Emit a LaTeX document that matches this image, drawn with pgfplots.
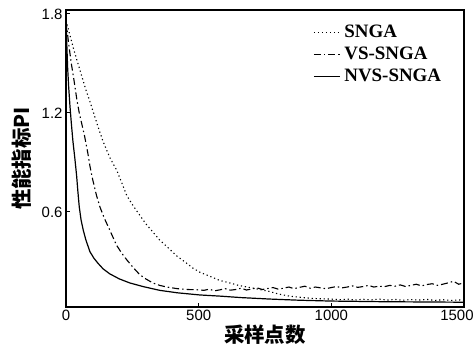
\documentclass[border=0pt]{standalone}
\usepackage{pgfplots}
\pgfplotsset{compat=1.18}
\usepackage{fontspec}
\setmainfont{Liberation Serif}
\setsansfont{Liberation Sans}
\newfontfamily\cjk{Noto Sans CJK SC}
\begin{document}
\begin{tikzpicture}
\begin{axis}[
  at={(0,0)}, anchor=south west,
  scale only axis, width=398bp, height=297bp,
  xmin=0, xmax=1500, ymin=0.024, ymax=1.824,
  xtick={0,500,1000,1500}, ytick={0.6,1.2,1.8},
  xticklabels={0,500,1000,\hspace*{-14bp}1500},
  yticklabels={0.6,1.2,1.8},
  xtick pos=bottom, ytick pos=left, tick align=inside,
  major tick length=4bp,
  axis line style={line width=1.3bp},
  every tick/.style={line width=1bp, black},
  tick label style={font=\sffamily\fontsize{15}{17}\selectfont},
  /pgf/number format/assume math mode=true,
  xlabel={\cjk\bfseries\fontsize{20.5}{24}\selectfont 采样点数},
  ylabel={\cjk\bfseries\fontsize{20.5}{24}\selectfont 性能指标PI},
  xlabel style={yshift=3bp},
  ylabel style={yshift=3bp},
  legend cell align=left,
  legend style={at={(rel axis cs:0.618,0.96)}, anchor=north west, draw=none, fill=none,
    font=\bfseries\fontsize{19}{22}\selectfont, row sep=4bp, inner sep=1bp,
    nodes={inner xsep=4bp}},
  legend image code/.code={\draw[#1] (0bp,0bp) -- (26bp,0bp);},
]
\addplot[black, line width=1.1bp, dash pattern=on 1.2bp off 2.8bp] coordinates {
(0,1.76) (10,1.70) (20,1.64) (30,1.58) (45,1.50) (60,1.42) (75,1.34) (90,1.27) (98,1.23)
(120,1.12) (139,1.03) (165,0.93) (192,0.85) (229,0.70) (252,0.64) (300,0.53) (353,0.43)
(380,0.39) (420,0.33) (450,0.295) (478,0.26) (504,0.235) (550,0.205) (579,0.185) (605,0.175)
(628,0.165) (650,0.155) (700,0.14) (767,0.118) (800,0.103) (842,0.09) (870,0.085) (900,0.08)
(930,0.076) (960,0.074) (1000,0.072) (1030,0.068) (1060,0.072) (1090,0.066) (1120,0.071)
(1150,0.067) (1180,0.072) (1210,0.066) (1240,0.07) (1270,0.065) (1300,0.069) (1330,0.066)
(1360,0.07) (1390,0.064) (1420,0.068) (1450,0.064) (1480,0.067) (1500,0.064)
};
\addlegendentry{SNGA}
\addplot[black, line width=1.1bp, dash pattern=on 7bp off 3bp on 1.5bp off 3bp] coordinates {
(0,1.76) (10,1.62) (20,1.50) (30,1.40) (41,1.28) (50,1.20) (60,1.13) (70,1.06) (83,0.95)
(90,0.88) (100,0.80) (115,0.70) (128,0.63) (145,0.56) (165,0.49) (190,0.40) (210,0.35)
(229,0.31) (255,0.26) (278,0.22) (300,0.195) (327,0.17) (353,0.155) (380,0.145) (420,0.135)
(460,0.13) (500,0.128) (520,0.125) (540,0.132) (560,0.122) (580,0.128) (600,0.135) (620,0.126)
(640,0.13) (660,0.138) (680,0.127) (700,0.133) (720,0.14) (740,0.13) (760,0.136) (780,0.142)
(800,0.132) (820,0.138) (840,0.145) (860,0.135) (880,0.143) (900,0.15) (920,0.138) (940,0.145)
(960,0.14) (980,0.135) (1000,0.142) (1020,0.148) (1040,0.14) (1060,0.145) (1080,0.152)
(1100,0.143) (1120,0.148) (1140,0.155) (1160,0.145) (1180,0.15) (1200,0.147) (1220,0.155)
(1240,0.15) (1260,0.158) (1280,0.148) (1300,0.155) (1320,0.162) (1340,0.152) (1360,0.16)
(1380,0.165) (1400,0.155) (1420,0.162) (1440,0.17) (1460,0.18) (1480,0.162) (1500,0.17)
};
\addlegendentry{VS-SNGA}
\addplot[black, line width=1.2bp] coordinates {
(0,1.80) (3,1.62) (6,1.48) (10,1.36) (15,1.24) (20,1.14) (26,1.03) (33,0.93) (40,0.82)
(45,0.72) (50,0.63) (57,0.55) (65,0.49) (75,0.43) (90,0.36) (105,0.32) (120,0.29)
(140,0.255) (165,0.225) (200,0.195) (240,0.17) (290,0.148) (353,0.125) (420,0.11)
(504,0.097) (580,0.09) (660,0.081) (770,0.072) (880,0.065) (1000,0.06) (1100,0.058)
(1200,0.056) (1300,0.055) (1400,0.054) (1500,0.053)
};
\addlegendentry{NVS-SNGA}
\end{axis}
\pgfresetboundingbox
\useasboundingbox (-66bp,-45bp) rectangle (410bp,307bp);
\end{tikzpicture}
\end{document}
